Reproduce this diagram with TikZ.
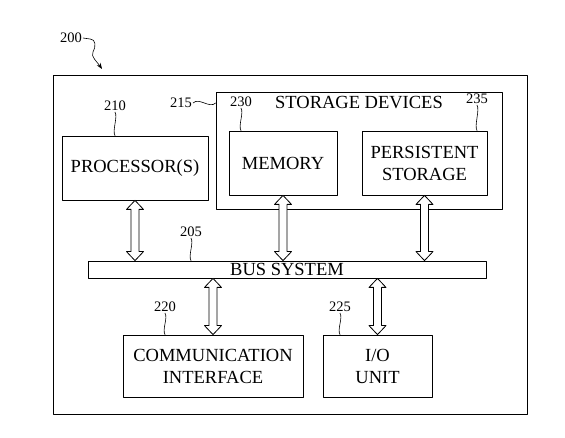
\documentclass[tikz,border=0pt]{standalone}
\usepackage{fontspec}
\setmainfont{Liberation Serif}
\usetikzlibrary{arrows.meta,calc}
\tikzset{
  every picture/.style={line join=round, line cap=round, >=Stealth},
  blk/.style={draw, line width=0.8pt, inner sep=0pt, align=center, font=\fontsize{18.5}{22}\selectfont},
  num/.style={inner sep=1pt, font=\fontsize{14.5}{16}\selectfont},
  lead/.style={line width=0.6pt},
  fat/.style={draw, line width=0.8pt, fill=white, to path={let \p1=(\tikztostart), \p2=(\tikztotarget) in
    (\x1,\y1) -- (\x1+8.5pt,\y1-9pt) -- (\x1+4pt,\y1-9pt) -- (\x1+4pt,\y2+9pt) -- (\x1+8.5pt,\y2+9pt) -- (\x1,\y2)
    -- (\x1-8.5pt,\y2+9pt) -- (\x1-4pt,\y2+9pt) -- (\x1-4pt,\y1-9pt) -- (\x1-8.5pt,\y1-9pt) -- cycle}},
}

\begin{document}
\begin{tikzpicture}[x=1pt,y=-1pt]
\useasboundingbox (0,0) rectangle (565,438);
% boxes
\node[blk, minimum width=474pt, minimum height=339pt] (sys) at (290,244.5) {};
\node[blk, minimum width=146pt, minimum height=64pt] (proc) at (135,168) {PROCESSOR(S)};
\node[blk, minimum width=286pt, minimum height=117pt] (store) at (359,150.5) {};
\node[font=\fontsize{18.5}{22}\selectfont] (sdt) at (359,103) {STORAGE DEVICES};
\node[blk, minimum width=108pt, minimum height=64pt] (mem) at (283,163) {MEMORY};
\node[blk, minimum width=125pt, minimum height=64pt] (pers) at (424.5,163) {PERSISTENT\\STORAGE};
\node[blk, minimum width=398pt, minimum height=17pt] (bus) at (287,269.5) {BUS SYSTEM};
\node[blk, minimum width=180pt, minimum height=62pt] (comm) at (213,366) {COMMUNICATION\\INTERFACE};
\node[blk, minimum width=109pt, minimum height=62pt] (io) at (377.5,366) {I/O\\UNIT};
% reference numbers
\node[num] (l200) at (71,38) {200};
\node[num] (l210) at (115,106) {210};
\node[num] (l215) at (181,103) {215};
\node[num] (l230) at (241,102) {230};
\node[num] (l235) at (477,99) {235};
\node[num] (l205) at (191,232) {205};
\node[num] (l220) at (165,307) {220};
\node[num] (l225) at (340,307) {225};
\coordinate (tip) at (102,69);
\draw[lead,-{Stealth[length=6pt,width=4.5pt]}] (l200.east) -- ++(7,1)
  .. controls +(6,0) and +(3,-5) .. (93,52) .. controls +(-3,4) and +(-4,-6) .. (tip);
\draw[lead] (l210.south) .. controls +(3,5) and +(-3,-5) .. (l210.south |- proc.north);
\draw[lead] (l230.south) .. controls +(3,5) and +(-3,-5) .. (l230.south |- mem.north);
\draw[lead] (l235.south) .. controls +(3,5) and +(-3,-5) .. (l235.south |- pers.north);
\draw[lead] (l205.south) .. controls +(3,5) and +(-3,-5) .. (l205.south |- bus.north);
\draw[lead] (l220.south) .. controls +(3,5) and +(-3,-5) .. (l220.south |- comm.north);
\draw[lead] (l225.south) .. controls +(3,5) and +(-3,-5) .. (l225.south |- io.north);
\draw[lead] (l215.east) .. controls +(6,-6) and +(-6,6) .. (l215.east -| store.west);
% bus connections
\draw[fat] (proc.south) to (proc.south |- bus.north);
\draw[fat] (mem.south) to (mem.south |- bus.north);
\draw[fat] (pers.south) to (pers.south |- bus.north);
\draw[fat] (comm.north |- bus.south) to (comm.north);
\draw[fat] (io.north |- bus.south) to (io.north);
\end{tikzpicture}
\end{document}
